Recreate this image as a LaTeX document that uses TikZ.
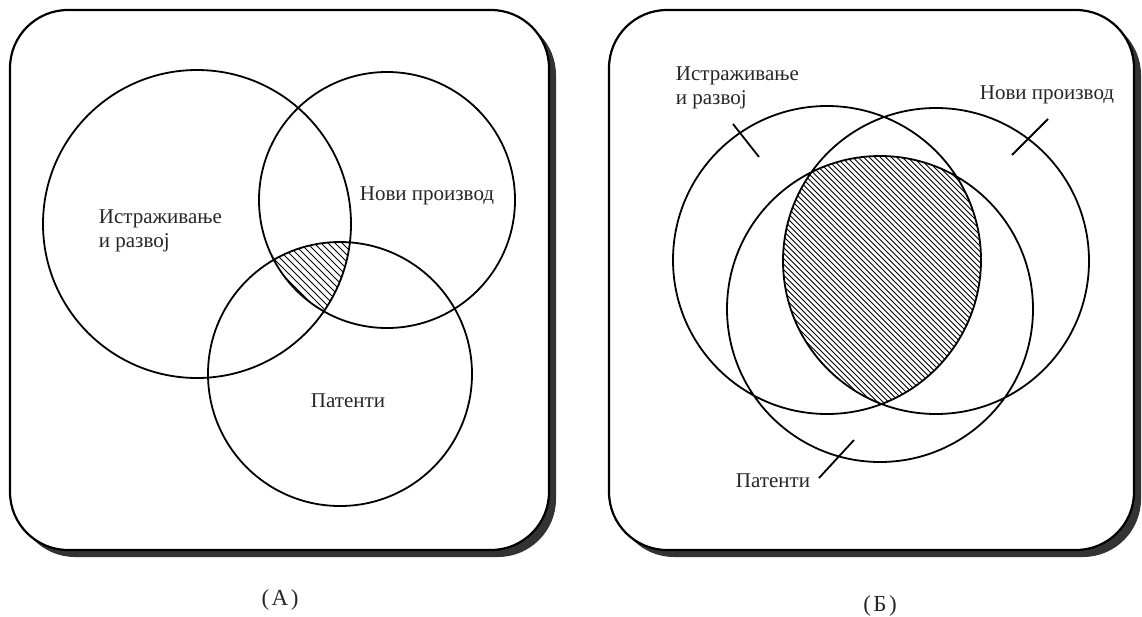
\documentclass[tikz,border=0pt]{standalone}
\usepackage{fontspec}
\setmainfont{Liberation Serif}

\begin{document}
\begin{tikzpicture}[x=1pt,y=-1pt,line width=1.8pt,
  lab/.style={font=\fontsize{21}{24}\selectfont,text=black!85,inner sep=0pt,align=left},
  panelcap/.style={font=\fontsize{23}{24}\selectfont,text=black!85,inner sep=0pt},
  hatch/.style={line width=0.8pt}]
  \useasboundingbox (0,0) rectangle (1142,616);
  % frames with drop shadow
  \foreach \l/\r in {10/549,609/1134}{
    \fill[black!80,rounded corners=58] (\l+7,17) rectangle (\r+7,557);
    \draw[fill=white,line width=2.2pt,rounded corners=58] (\l,10) rectangle (\r,550);
  }
  % (A) three sets, small common part
  \coordinate (rdA) at (197,224);
  \coordinate (npA) at (387,200);
  \coordinate (ptA) at (340,374);
  \begin{scope}
    \clip (rdA) circle(154); \clip (npA) circle(128); \clip (ptA) circle(132);
    \foreach \k in {-90,-83,...,130}{\draw[hatch] (\k,0)--++(450,450);}
  \end{scope}
  \draw (rdA) circle(154) (npA) circle(128) (ptA) circle(132);
  \node[lab,anchor=west] (rdlabA) at (98,231) {Истраживање\\и развој};
  \node[lab,anchor=west] (nplabA) at (359,196) {Нови производ};
  \node[lab,anchor=west] (ptlabA) at (310,401) {Патенти};
  \node[panelcap] (capA) at (280,600) {(\kern2.5ptА\kern2.5pt)};
  % (B) three sets, large common part
  \coordinate (rdB) at (827,260);
  \coordinate (npB) at (936,261);
  \coordinate (ptB) at (880,309);
  \begin{scope}
    \clip (rdB) circle(154); \clip (npB) circle(153); \clip (ptB) circle(153);
    \foreach \k in {360,365.5,...,840}{\draw[hatch] (\k,0)--++(450,450);}
  \end{scope}
  \draw (rdB) circle(154) (npB) circle(153) (ptB) circle(153);
  \node[lab,anchor=west] (rdlabB) at (675,88) {Истраживање\\и развој};
  \node[lab,anchor=west] (nplabB) at (979,95) {Нови производ};
  \node[lab,anchor=west] (ptlabB) at (735,481) {Патенти};
  \node[panelcap] (capB) at (880,606) {(\kern2.5ptБ\kern2.5pt)};
  % leaders
  \coordinate (rdB1) at (733,124); \coordinate (rdB2) at (759,157);
  \coordinate (npB1) at (1048,119); \coordinate (npB2) at (1012,155);
  \coordinate (ptB1) at (819,478); \coordinate (ptB2) at (854,440);
  \draw (rdB1)--(rdB2) (npB1)--(npB2) (ptB1)--(ptB2);
\end{tikzpicture}
\end{document}
